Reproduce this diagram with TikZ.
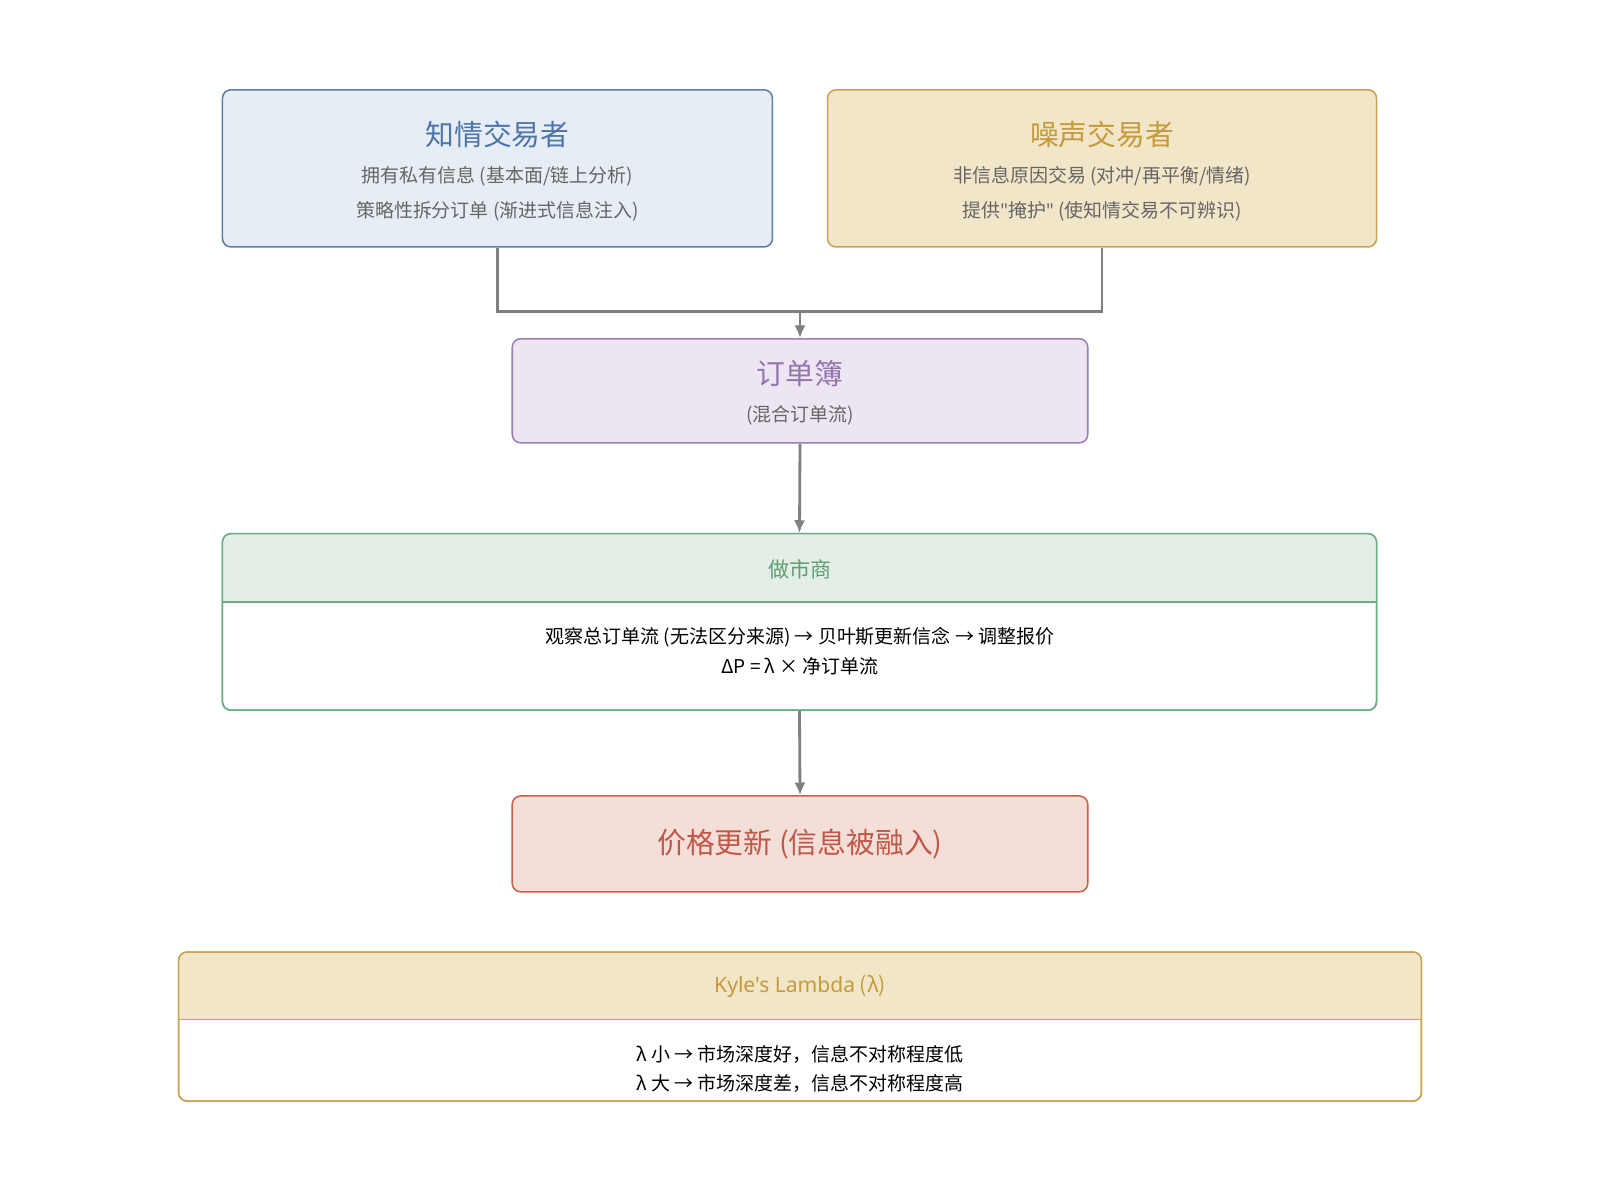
\documentclass[tikz,border=0pt]{standalone}
\usepackage{fontspec}
\setmainfont{Noto Sans CJK SC}
\newfontfamily\latin{Noto Sans}
\usetikzlibrary{arrows.meta}
\definecolor{infofill}{HTML}{E6EDF5}\definecolor{infoline}{HTML}{5B7FA8}\definecolor{infotext}{HTML}{4F76A8}
\definecolor{noisefill}{HTML}{F2E6C9}\definecolor{noiseline}{HTML}{C9A450}\definecolor{noisetext}{HTML}{C49A3C}
\definecolor{bookfill}{HTML}{EDE6F2}\definecolor{bookline}{HTML}{9A7FB5}\definecolor{booktext}{HTML}{9475AE}
\definecolor{mmfill}{HTML}{E3EEE6}\definecolor{mmline}{HTML}{6FAE85}\definecolor{mmtext}{HTML}{5E9E74}
\definecolor{pricefill}{HTML}{F3DED8}\definecolor{priceline}{HTML}{C8604E}\definecolor{pricetext}{HTML}{C0584A}
\definecolor{subtext}{HTML}{666666}\definecolor{arrowgray}{HTML}{808080}
\newcommand{\px}{0.02551cm}
\tikzset{
  box/.style={draw, rounded corners=6pt, line width=1.1pt},
  title/.style={font=\fontsize{20.5}{24}\selectfont},
  sub/.style={font=\fontsize{13.5}{16}\selectfont, text=subtext},
  body/.style={font=\fontsize{13.5}{16}\selectfont, text=black},
  flow/.style={draw=arrowgray, line width=2pt, -{Latex[length=9pt,width=8pt]}},
}
\begin{document}
\begin{tikzpicture}[x=\px, y=-\px]
\useasboundingbox (0,0) rectangle (1568,1176);
% traders
\node[box, fill=infofill, draw=infoline, minimum width=539*\px, minimum height=154*\px] (informed) at (487.5,165) {};
\node[title, text=infotext] at (487.5,132) {知情交易者};
\node[sub] at (487.5,173) {拥有私有信息 (基本面/链上分析)};
\node[sub] at (487.5,207) {策略性拆分订单 (渐进式信息注入)};
\node[box, fill=noisefill, draw=noiseline, minimum width=538*\px, minimum height=154*\px] (noise) at (1080,165) {};
\node[title, text=noisetext] at (1080,132) {噪声交易者};
\node[sub] at (1080,173) {非信息原因交易 (对冲/再平衡/情绪)};
\node[sub] at (1080,207) {提供{\latin\symbol{34}}掩护{\latin\symbol{34}} (使知情交易不可辨识)};
% order book
\node[box, fill=bookfill, draw=bookline, minimum width=564*\px, minimum height=102*\px] (book) at (784,383) {};
\node[title, text=booktext] at (784,366) {订单簿};
\node[sub] at (784,407) {(混合订单流)};
% market maker
\node[box, fill=white, draw=mmline, minimum width=1131*\px, minimum height=173*\px] (mm) at (783.5,609.5) {};
\begin{scope}
\clip[rounded corners=6pt] (218,523) rectangle (1349,696);
\fill[mmfill] (218,523) rectangle (1349,590);
\end{scope}
\draw[box, draw=mmline] (218,523) rectangle (1349,696);
\draw[mmline, line width=1.1pt] (218,590) -- (1349,590);
\node[font=\fontsize{15}{18}\selectfont, text=mmtext] at (784,558) {做市商};
\node[body] at (784,624) {观察总订单流 (无法区分来源) → 贝叶斯更新信念 → 调整报价};
\node[body] at (784,653) {ΔP = λ × 净订单流};
% price
\node[box, fill=pricefill, draw=priceline, minimum width=564*\px, minimum height=94*\px, title, text=pricetext] (price) at (784,827) {价格更新 (信息被融入)};
% kyle
\node[box, fill=white, draw=noiseline, minimum width=1218*\px, minimum height=146*\px] (kyle) at (784,1006) {};
\begin{scope}
\clip[rounded corners=6pt] (175,933) rectangle (1393,1079);
\fill[noisefill] (175,933) rectangle (1393,999);
\end{scope}
\draw[box, draw=noiseline] (175,933) rectangle (1393,1079);
\draw[noiseline, line width=1.1pt] (175,999) -- (1393,999);
\node[font=\fontsize{15}{18}\selectfont, text=noisetext] at (784,967) {{\latin Kyle\symbol{39}s Lambda} (λ)};
\node[body] at (784,1033) {λ 小 → 市场深度好，信息不对称程度低};
\node[body] at (784,1062) {λ 大 → 市场深度差，信息不对称程度高};
% connectors
\coordinate (join) at (784,305);
\draw[draw=arrowgray, line width=2pt] (informed.south) |- (join) -| (noise.south);
\draw[flow] (join) -- (book.north);
\draw[flow] (book.south) -- (mm.north);
\draw[flow] (mm.south) -- (price.north);
\end{tikzpicture}
\end{document}
